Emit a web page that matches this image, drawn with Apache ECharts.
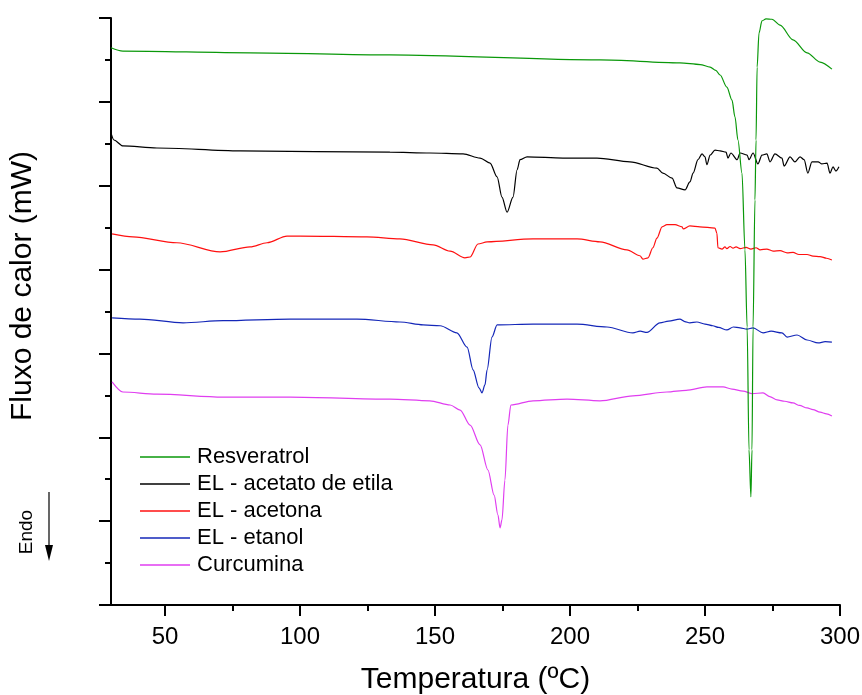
<!DOCTYPE html>
<html>
<head>
<meta charset="utf-8">
<script src="https://cdn.jsdelivr.net/npm/echarts@6/dist/echarts.min.js"></script>
<style>html,body{margin:0;padding:0;background:#fff}#c{width:862px;height:695px}</style>
</head>
<body>
<div id="c"></div>
<script>
var seriesNames = ['Resveratrol', 'EL - acetato de etila', 'EL - acetona', 'EL - etanol', 'Curcumina'];
var xTicks = [50, 100, 150, 200, 250, 300];
var xMinorTicks = [75, 125, 175, 225, 275];

var resT = [30.0, 34.4, 81.5, 133.3, 211.1, 240.7, 248.2, 251.9, 254.0, 255.6, 258.1, 260.0, 261.1, 262.2, 263.7, 264.8, 265.6, 266.3, 267.0, 267.4, 267.8, 268.5, 268.9, 269.3, 270.0, 271.1, 272.6, 274.8, 277.8, 282.6, 287.8, 292.6, 297.0];
var resY = [13.29, 13.21, 13.17, 13.12, 13.0, 12.93, 12.89, 12.83, 12.75, 12.64, 12.35, 12.04, 11.64, 11.09, 10.30, 8.47, 6.63, 3.70, 2.58, 3.70, 6.63, 9.66, 11.09, 12.83, 13.64, 13.93, 13.98, 13.97, 13.83, 13.48, 13.17, 12.95, 12.78];

var aceT = [30.0, 31.1, 34.4, 47.0, 77.8, 133.3, 148.1, 160.4, 166.7, 170.4, 173.0, 174.8, 176.7, 178.9, 180.4, 181.5, 184.1, 197.4, 210.0, 222.2, 232.2, 234.4, 237.8, 239.6, 242.6, 244.4, 245.6, 247.4, 248.9, 250.0, 250.7, 251.9, 253.7, 255.6, 257.8, 258.5, 259.6, 261.9, 263.0, 265.6, 266.3, 267.8, 269.6, 271.1, 272.9, 274.1, 275.9, 278.5, 279.3, 281.5, 283.3, 285.2, 286.7, 288.1, 289.6, 291.9, 293.3, 295.2, 296.3, 297.4, 298.5, 299.6];
var aceY = [11.26, 11.09, 10.95, 10.90, 10.83, 10.80, 10.78, 10.76, 10.66, 10.54, 10.21, 9.73, 9.37, 9.73, 10.38, 10.62, 10.69, 10.66, 10.66, 10.57, 10.42, 10.30, 10.18, 9.95, 9.90, 10.09, 10.30, 10.62, 10.76, 10.69, 10.50, 10.73, 10.85, 10.83, 10.80, 10.66, 10.78, 10.62, 10.78, 10.73, 10.62, 10.78, 10.52, 10.73, 10.76, 10.57, 10.76, 10.66, 10.47, 10.69, 10.57, 10.69, 10.62, 10.30, 10.57, 10.57, 10.52, 10.54, 10.30, 10.45, 10.35, 10.45];

var actT = [30.4, 38.1, 54.4, 70.4, 81.5, 87.8, 95.2, 100.0, 124.8, 137.0, 149.3, 155.6, 161.1, 163.0, 165.9, 169.3, 186.3, 202.6, 211.1, 221.1, 225.9, 227.0, 228.9, 230.7, 232.2, 234.1, 235.9, 238.9, 241.5, 241.9, 244.4, 248.1, 253.7, 254.4, 254.8, 256.3, 257.4, 258.1, 259.3, 260.4, 261.5, 263.0, 265.2, 267.0, 268.9, 270.4, 272.9, 275.2, 277.8, 280.4, 282.6, 284.8, 287.8, 290.0, 292.6, 295.0, 297.0];
var actY = [8.85, 8.78, 8.64, 8.42, 8.54, 8.64, 8.80, 8.80, 8.78, 8.73, 8.59, 8.44, 8.28, 8.30, 8.61, 8.66, 8.73, 8.73, 8.66, 8.47, 8.33, 8.25, 8.28, 8.52, 8.75, 9.02, 9.07, 9.07, 9.02, 8.97, 9.04, 9.02, 8.99, 8.87, 8.52, 8.49, 8.54, 8.50, 8.55, 8.51, 8.54, 8.50, 8.53, 8.49, 8.52, 8.47, 8.49, 8.44, 8.45, 8.40, 8.41, 8.36, 8.36, 8.32, 8.31, 8.27, 8.23];

var etaT = [30.4, 40.7, 56.7, 71.5, 96.3, 121.1, 137.0, 145.6, 151.9, 158.1, 161.9, 164.1, 166.3, 167.4, 168.5, 169.3, 171.1, 173.0, 186.3, 202.6, 213.7, 223.3, 226.0, 228.5, 233.3, 236.5, 240.7, 242.5, 244.4, 247.0, 250.0, 252.9, 255.0, 258.1, 260.5, 263.0, 265.5, 267.8, 271.5, 274.5, 278.5, 280.4, 284.1, 287.8, 291.9, 294.5, 297.0];
var etaY = [6.85, 6.82, 6.73, 6.78, 6.82, 6.82, 6.75, 6.68, 6.66, 6.49, 6.15, 5.61, 5.18, 5.06, 5.25, 5.61, 6.39, 6.68, 6.70, 6.70, 6.63, 6.49, 6.53, 6.50, 6.73, 6.77, 6.82, 6.76, 6.73, 6.75, 6.70, 6.66, 6.62, 6.56, 6.63, 6.61, 6.58, 6.61, 6.49, 6.53, 6.49, 6.39, 6.44, 6.32, 6.25, 6.28, 6.27];

var curT = [30.4, 34.4, 47.0, 71.5, 96.3, 133.3, 148.1, 155.6, 159.3, 163.0, 166.7, 169.6, 171.9, 173.3, 174.1, 174.8, 175.9, 177.0, 178.1, 186.3, 198.9, 211.1, 223.3, 235.9, 243.0, 250.7, 256.7, 260.0, 264.1, 267.5, 271.5, 274.0, 276.7, 279.5, 282.6, 285.0, 287.8, 290.0, 292.6, 295.0, 297.0];
var curY = [5.32, 5.08, 5.03, 4.96, 4.96, 4.91, 4.87, 4.77, 4.65, 4.29, 3.82, 3.22, 2.62, 2.15, 1.84, 2.03, 2.98, 4.29, 4.77, 4.87, 4.91, 4.87, 4.99, 5.08, 5.12, 5.20, 5.20, 5.15, 5.10, 5.04, 5.06, 4.97, 4.89, 4.86, 4.82, 4.76, 4.70, 4.66, 4.60, 4.56, 4.51];

function pairs(t, v) { return t.map(function (x, i) { return [x, v[i]]; }); }

var colors = ['#0a980a', '#000000', '#ff1010', '#1427b8', '#e03ef0'];
var dataSets = [pairs(resT, resY), pairs(aceT, aceY), pairs(actT, actY), pairs(etaT, etaY), pairs(curT, curY)];

var chart = echarts.init(document.getElementById('c'), null, { renderer: 'canvas' });
var font = "'Liberation Sans', Arial, Helvetica, sans-serif";

var series = dataSets.map(function (d, i) {
  return {
    name: seriesNames[i],
    type: 'line',
    data: d,
    showSymbol: false,
    symbol: 'none',
    smooth: 0.3,
    smoothMonotone: 'x',
    z: i === 0 ? 5 : 3,
    lineStyle: { color: colors[i], width: 1.2 },
    itemStyle: { color: colors[i] }
  };
});

chart.setOption({
  animation: false,
  backgroundColor: '#fff',
  grid: { left: 111, right: 22, top: 18, bottom: 90, containLabel: false, outerBoundsMode: 'none' },
  xAxis: [{
    type: 'value', min: 30, max: 300, position: 'bottom',
    axisLine: { show: true, onZero: false, lineStyle: { color: '#000', width: 2 } },
    axisTick: { show: true, inside: false, length: 11, customValues: xTicks, lineStyle: { color: '#000', width: 2 } },
    axisLabel: { show: true, customValues: xTicks, margin: 20, color: '#000', fontSize: 24, fontFamily: font },
    splitLine: { show: false },
    name: 'Temperatura (ºC)', nameLocation: 'middle', nameGap: 60,
    nameTextStyle: { color: '#000', fontSize: 30, fontFamily: font }
  }, {
    type: 'value', min: 30, max: 300, position: 'bottom', offset: 0,
    axisLine: { show: false },
    axisTick: { show: true, inside: false, length: 6, customValues: xMinorTicks, lineStyle: { color: '#000', width: 2 } },
    axisLabel: { show: false },
    splitLine: { show: false }
  }],
  yAxis: {
    type: 'value', min: 0, max: 14, interval: 2, position: 'left',
    axisLine: { show: true, onZero: false, lineStyle: { color: '#000', width: 2 } },
    axisTick: { show: true, inside: false, length: 12, lineStyle: { color: '#000', width: 2 } },
    minorTick: { show: true, splitNumber: 2, length: 6, lineStyle: { color: '#000', width: 2 } },
    axisLabel: { show: false },
    splitLine: { show: false },
    minorSplitLine: { show: false }
  },
  legend: {
    orient: 'vertical', left: 140, top: 446, padding: 0,
    icon: 'rect', itemWidth: 50, itemHeight: 1.4, itemGap: 5,
    textStyle: { color: '#000', fontSize: 22, lineHeight: 22, fontFamily: font, padding: [0, 0, 0, 2] },
    data: seriesNames,
    selectedMode: false
  },
  graphic: [
    { type: 'text', x: 23, y: 286, rotation: Math.PI / 2,
      style: { text: 'Fluxo de calor (mW)', fill: '#000', font: '30px ' + font, textAlign: 'center', textVerticalAlign: 'middle' } },
    { type: 'text', x: 27, y: 532, rotation: Math.PI / 2,
      style: { text: 'Endo', fill: '#000', font: '19px ' + font, textAlign: 'center', textVerticalAlign: 'middle' } },
    { type: 'line', shape: { x1: 49, y1: 492, x2: 49, y2: 548 }, style: { stroke: '#000', lineWidth: 1.2 } },
    { type: 'polygon', shape: { points: [[45, 545], [53, 545], [49, 561]] }, style: { fill: '#000' } }
  ],
  series: series
});
</script>
</body>
</html>
